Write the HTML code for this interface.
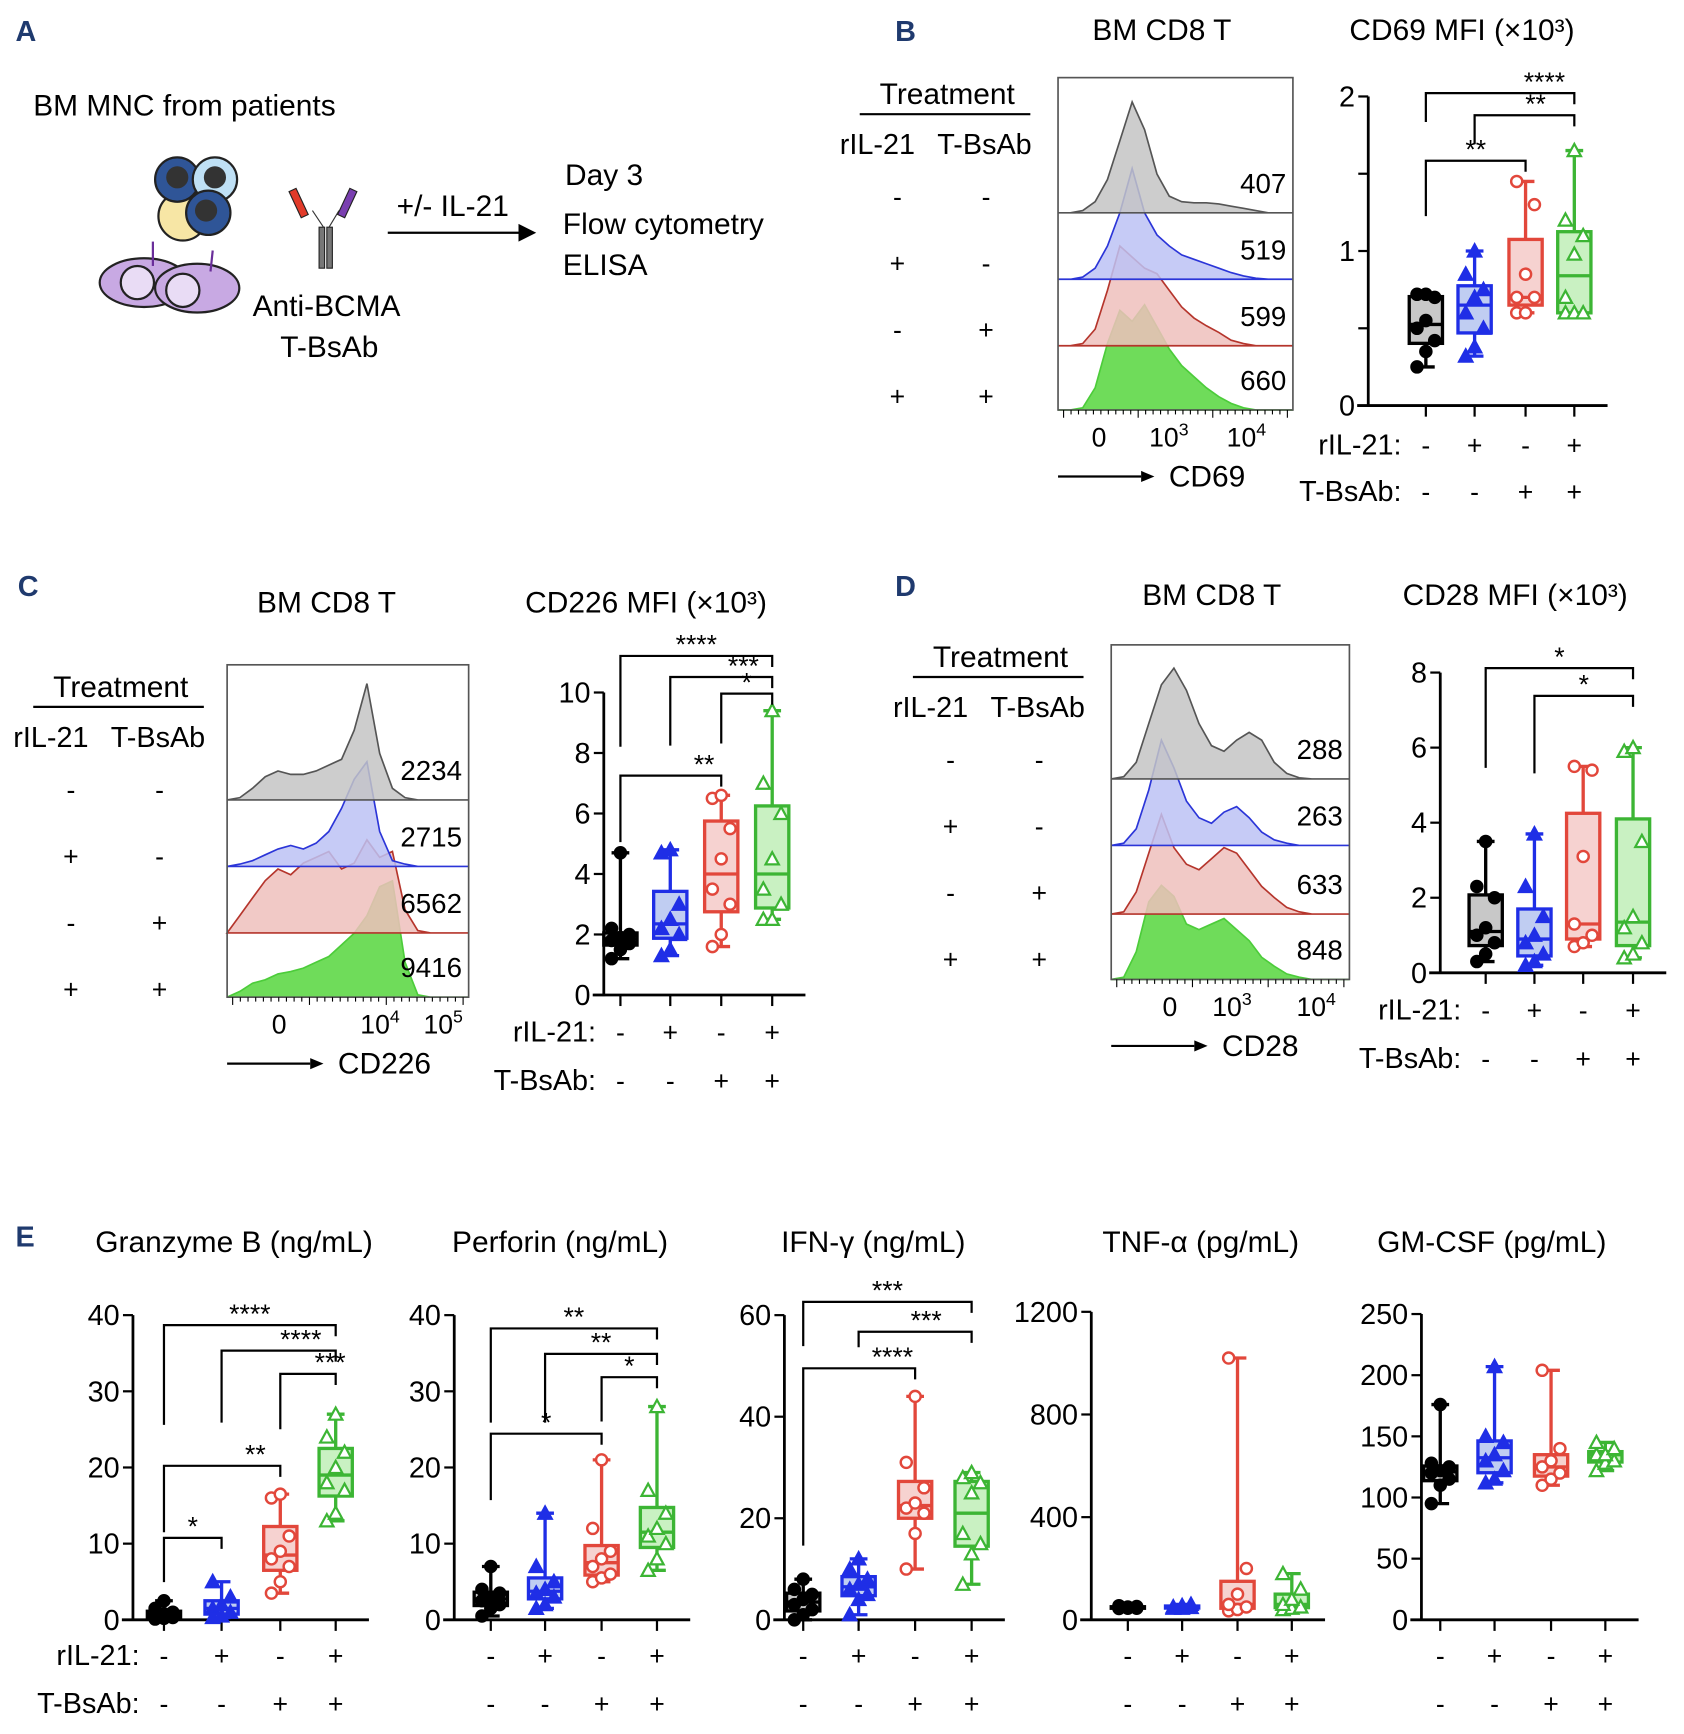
<!DOCTYPE html>
<html><head><meta charset="utf-8"><style>
html,body{margin:0;padding:0;background:#fff}
svg{display:block;font-family:"Liberation Sans",sans-serif}
</style></head><body>
<svg id="fig" width="1684" height="1734" viewBox="0 0 1520 1565" xmlns="http://www.w3.org/2000/svg">
<g>
 <text x="14" y="37" font-size="26" font-weight="bold" fill="#1f3a6e">A</text>
 <text x="30" y="104" font-size="27">BM MNC   from patients</text>
 <g>
  <ellipse cx="130" cy="255" rx="40" ry="22" fill="#c8a9e3" stroke="#222" stroke-width="2"/>
  <ellipse cx="178" cy="260" rx="38" ry="22" fill="#c8a9e3" stroke="#222" stroke-width="2"/>
  <circle cx="124" cy="255" r="15" fill="#e9dcf5" stroke="#222" stroke-width="2"/>
  <circle cx="165" cy="262" r="15" fill="#e9dcf5" stroke="#222" stroke-width="2"/>
  <line x1="138" y1="218" x2="138" y2="240" stroke="#6a2e9a" stroke-width="2"/>
  <line x1="192" y1="226" x2="190" y2="245" stroke="#6a2e9a" stroke-width="2"/>
  <circle cx="165" cy="195" r="22" fill="#f7e6a5" stroke="#222" stroke-width="2"/>
  <circle cx="160" cy="162" r="20" fill="#2f5597" stroke="#222" stroke-width="2"/>
  <circle cx="194" cy="162" r="20" fill="#bfe0f5" stroke="#222" stroke-width="2"/>
  <circle cx="188" cy="192" r="20" fill="#2f5597" stroke="#222" stroke-width="2"/>
  <circle cx="160" cy="160" r="10" fill="#333"/><circle cx="194" cy="160" r="10" fill="#333"/><circle cx="186" cy="190" r="10" fill="#333"/>
 </g>
 <g>
  <rect x="288" y="205" width="5" height="37" fill="#777" stroke="#222"/><rect x="295" y="205" width="5" height="37" fill="#777" stroke="#222"/>
  <line x1="292" y1="205" x2="282" y2="190" stroke="#333"/><line x1="297" y1="205" x2="306" y2="190" stroke="#333"/>
  <rect x="266" y="170" width="7" height="26" fill="#e23b2a" stroke="#222" transform="rotate(-25 270 183)"/>
  <rect x="310" y="170" width="7" height="26" fill="#7a3fb0" stroke="#222" transform="rotate(25 313 183)"/>
 </g>
 <text x="358" y="195" font-size="27">+/- IL-21</text>
 <line x1="350" y1="210" x2="470" y2="210" stroke="#000" stroke-width="2"/><polygon points="468,202 484,210 468,218" fill="#000"/>
 <text x="228" y="285" font-size="27">Anti-BCMA</text>
 <text x="253" y="322" font-size="27">T-BsAb</text>
 <text x="510" y="167" font-size="27">Day 3</text>
 <text x="508" y="211" font-size="27">Flow cytometry</text>
 <text x="508" y="248" font-size="27">ELISA</text>
</g>
<g id="plots"></g>
</svg>
<script>
// ===== DATA =====
const groupLabelsIL21 = ['-','+','-','+'];
const groupLabelsBsAb = ['-','-','+','+'];
// Panel B CD69 MFI (x10^3)
const cd69Black=[0.72,0.72,0.7,0.55,0.5,0.42,0.35,0.25];
const cd69Blue=[1.0,0.85,0.75,0.7,0.6,0.5,0.38,0.32];
const cd69Red=[1.45,1.3,0.85,0.7,0.7,0.6,0.6];
const cd69Green=[1.65,1.2,1.1,0.98,0.7,0.6,0.6,0.6];
const cd69Ticks=[0,0.5,1,1.5,2];
const cd69TickLabels=['0','','1','','2'];
// Panel C CD226
const cd226Black=[4.7,2.2,2,1.9,1.8,1.7,1.5,1.2];
const cd226Blue=[4.8,4.7,3,2.5,2.2,2,1.5,1.3];
const cd226Red=[6.6,6.5,5.5,4.5,3.5,3,2,1.6];
const cd226Green=[9.4,7,6,4.5,3.5,3,2.5,2.5];
const cd226Ticks=[0,2,4,6,8,10];
const cd226TickLabels=['0','2','4','6','8','10'];
// Panel D CD28
const cd28Black=[3.5,2.3,2,1.2,1,0.8,0.5,0.3];
const cd28Blue=[3.7,2.3,1.5,1,0.8,0.5,0.3,0.2];
const cd28Red=[5.5,5.4,3.1,1.3,1,0.8,0.7];
const cd28Green=[6.0,5.9,3.5,1.5,1.2,0.8,0.5,0.4];
const cd28Ticks=[0,2,4,6,8];
const cd28TickLabels=['0','2','4','6','8'];
// Panel E
const gzmBlack=[2.5,1.5,1,0.8,0.5,0.3,0.2,0.1];
const gzmBlue=[5,3,2,1.5,1,0.5,0.3];
const gzmRed=[16.5,16,11,9,8,7,5,3.5];
const gzmGreen=[27,24,22,20,18,17,14,13];
const gzmTicks=[0,10,20,30,40];
const perfBlack=[7,4,3.5,3,2.5,2,1.5,0.5];
const perfBlue=[14,7,5,4,3.5,3,2,1.5];
const perfRed=[21,12,9,8,7,6,5.5,5];
const perfGreen=[28,17,14,12,11,10,8,6.5];
const perfTicks=[0,10,20,30,40];
const ifnBlack=[8,6,5,4,3,2,1,0];
const ifnBlue=[12,10,8,7,6,5,4,1];
const ifnRed=[44,31,26,23,22,21,17,10];
const ifnGreen=[29,28,27,25,17,15,13,7];
const ifnTicks=[0,20,40,60];
const tnfBlack=[55,52,50,48,45,45,44];
const tnfBlue=[60,55,50,48,45,45];
const tnfRed=[1020,200,100,60,50,40,35];
const tnfGreen=[180,120,80,60,50,45,40];
const tnfTicks=[0,400,800,1200];
const gmBlack=[176,128,125,122,120,115,110,95];
const gmBlue=[207,150,145,135,130,122,115,112];
const gmRed=[204,140,130,125,120,115,110];
const gmGreen=[145,140,135,135,130,128,122];
const gmTicks=[0,50,100,150,200,250];
// Histograms (relative heights per bin)
const histB_gray=[0,0,0.02,0.1,0.3,0.65,1.0,0.75,0.35,0.15,0.1,0.09,0.09,0.08,0.06,0.04,0.02,0,0,0];
const histB_blue=[0,0,0.02,0.1,0.3,0.6,1.0,0.6,0.4,0.3,0.22,0.18,0.14,0.1,0.06,0.03,0.01,0,0,0];
const histB_red=[0,0,0.02,0.15,0.5,0.9,0.8,0.7,0.65,0.5,0.35,0.25,0.18,0.12,0.05,0.02,0,0,0,0];
const histB_green=[0,0,0.02,0.2,0.6,0.9,0.8,0.95,0.75,0.55,0.4,0.3,0.2,0.12,0.06,0.02,0,0,0,0];
const histB_mfi=['407','519','599','660'];
const histC_gray=[0,0.02,0.1,0.2,0.25,0.22,0.22,0.25,0.3,0.35,0.6,1.0,0.4,0.1,0.02,0,0,0,0,0];
const histC_blue=[0,0.02,0.05,0.1,0.15,0.18,0.15,0.2,0.3,0.5,0.75,0.9,0.3,0.05,0.02,0,0,0,0,0];
const histC_red=[0,0.15,0.3,0.45,0.55,0.5,0.6,0.65,0.7,0.55,0.6,0.8,0.65,0.7,0.2,0.02,0,0,0,0];
const histC_green=[0,0.05,0.12,0.15,0.2,0.22,0.25,0.3,0.35,0.45,0.55,0.7,0.95,1.0,0.3,0.02,0,0,0,0];
const histC_mfi=['2234','2715','6562','9416'];
const histD_gray=[0,0.02,0.15,0.5,0.85,1.0,0.8,0.5,0.3,0.25,0.35,0.42,0.35,0.15,0.05,0.01,0,0,0,0];
const histD_blue=[0,0.02,0.15,0.5,0.95,0.7,0.4,0.25,0.2,0.3,0.35,0.25,0.12,0.05,0.02,0,0,0,0,0];
const histD_red=[0,0.02,0.2,0.55,0.9,0.6,0.45,0.4,0.5,0.6,0.55,0.4,0.25,0.15,0.06,0.02,0,0,0,0];
const histD_green=[0,0.02,0.25,0.7,0.85,0.75,0.5,0.45,0.5,0.55,0.45,0.35,0.2,0.12,0.05,0.02,0,0,0,0];
const histD_mfi=['288','263','633','848'];

// ===== DRAWING =====
const NS='http://www.w3.org/2000/svg';
const root=document.getElementById('plots');
const COL=['#000000','#1f2ee6','#e2473b','#3cb534'];
const FILL=['#c8c8c8','#c0cdf2','#f6d2d0','#c9f1c2'];
function el(tag,attrs,parent,txt){const e=document.createElementNS(NS,tag);for(const k in attrs)e.setAttribute(k,attrs[k]);if(txt!==undefined)e.textContent=txt;(parent||root).appendChild(e);return e;}
function txt(x,y,s,size,parent,anchor,name){const t=el('text',{x:x,y:y,'font-size':size,'text-anchor':anchor||'start'},parent,s);

return t;}
function q(a,p){const s=[...a].sort((x,y)=>x-y);const i=(s.length-1)*p,lo=Math.floor(i),hi=Math.ceil(i);return s[lo]+(s[hi]-s[lo])*(i-lo);}
function marker(g,k,x,y,c){
 if(k===0||k===2){el('circle',{cx:x,cy:y,r:5,fill:k===0?c:'#fff',stroke:c,'stroke-width':2.2},g);}
 else{el('polygon',{points:`${x},${y-6} ${x-6},${y+5} ${x+6},${y+5}`,fill:k===1?c:'#fff',stroke:c,'stroke-width':2},g);}
}
function boxplot(cfg){
 const g=el('g',{});
 
 
 const yS=v=>cfg.y0-(v/cfg.max)*(cfg.y0-cfg.yTop);
 el('line',{x1:cfg.ax,y1:cfg.y0+1,x2:cfg.ax,y2:yS(cfg.max),stroke:'#000','stroke-width':2.5},g);
 el('line',{x1:cfg.ax-10,y1:cfg.y0,x2:cfg.xs[3]+30,y2:cfg.y0,stroke:'#000','stroke-width':2.5},g);
 cfg.ticks.forEach((t,i)=>{el('line',{x1:cfg.ax-9,y1:yS(t),x2:cfg.ax,y2:yS(t),stroke:'#000','stroke-width':2},g);
  const lab=cfg.tickLabels?cfg.tickLabels[i]:String(t);
  if(lab)txt(cfg.ax-12,yS(t)+9,lab,26,g,'end','y-tick-label');});
 cfg.xs.forEach((x,i)=>{el('line',{x1:x,y1:cfg.y0,x2:x,y2:cfg.y0+10,stroke:'#000','stroke-width':2},g);
  txt(x,cfg.rowY1,groupLabelsIL21[i],24,g,'middle','ril21-sign');
  txt(x,cfg.rowY2,groupLabelsBsAb[i],24,g,'middle','tbsab-sign');});
 if(cfg.rowLabels){txt(cfg.xs[0]-22,cfg.rowY1,'rIL-21:',26,g,'end','ril21-row-label');txt(cfg.xs[0]-22,cfg.rowY2,'T-BsAb:',26,g,'end','tbsab-row-label');}
 cfg.data.forEach((d,k)=>{
  const x=cfg.xs[k],w=cfg.bw/2,c=COL[k];
  const mn=Math.min(...d),mx=Math.max(...d),q1=q(d,0.25),md=q(d,0.5),q3=q(d,0.75);
  const b=el('g',{},g);
  
  
  el('line',{x1:x,y1:yS(mx),x2:x,y2:yS(mn),stroke:c,'stroke-width':3},b);
  el('line',{x1:x-8,y1:yS(mx),x2:x+8,y2:yS(mx),stroke:c,'stroke-width':3},b);
  el('line',{x1:x-8,y1:yS(mn),x2:x+8,y2:yS(mn),stroke:c,'stroke-width':3},b);
  el('rect',{x:x-w,y:yS(q3),width:2*w,height:Math.max(1,yS(q1)-yS(q3)),fill:FILL[k],stroke:c,'stroke-width':3},b);
  el('line',{x1:x-w,y1:yS(md),x2:x+w,y2:yS(md),stroke:c,'stroke-width':3},b);
  const sorted=[...d].sort((a,b2)=>a-b2);
  sorted.forEach((v,i)=>{const off=((i%3)-1)*8*(d.length>4?1:0);marker(b,k,x+off,yS(v),c);});
 });
 (cfg.brackets||[]).forEach(br=>{
  const x1=cfg.xs[br[0]],x2=cfg.xs[br[1]],y=br[2];
  el('path',{d:`M${x1},${y+br[3]} L${x1},${y} L${x2},${y} L${x2},${y+10}`,fill:'none',stroke:'#000','stroke-width':2},g);
  if(br[4])txt((x1+x2)/2+(br[5]||0),y-2,br[4],24,g,'middle','significance-stars');
 });
 root.appendChild(g);
}
function histo(cfg){
 const g=el('g',{});
 
 
 const w=cfg.x1-cfg.x0;
 const strokes=['#555','#2b35d8','#b5352c','#4ccc3a'];
 const fills=['#c4c4c4','#bcc2f4','#efc0bc','#6fdc5a'];
 for(let r=3;r>=0;r--){
  const arr=cfg.series[r],base=cfg.bases[r],n=arr.length,step=w/(n-1);
  let d=`M${cfg.x0},${base}`;
  arr.forEach((v,i)=>{d+=` L${(cfg.x0+i*step).toFixed(1)},${(base-v*cfg.H).toFixed(1)}`;});
  d+=` L${cfg.x1},${base} Z`;
  const p=el('path',{d:d,fill:fills[r],'fill-opacity':r===3?1:0.85,stroke:strokes[r],'stroke-width':1.5},g);
  
  
  txt(cfg.x1-6,base-18,cfg.mfi[r],25,g,'end','mfi-value');
 }
 el('rect',{x:cfg.x0,y:cfg.yTop,width:w,height:cfg.bases[3]-cfg.yTop,fill:'none',stroke:'#555','stroke-width':1.5},g);
 for(let i=0;i<=30;i++){const x=cfg.x0+5+i*(w-10)/30;el('line',{x1:x,y1:cfg.bases[3],x2:x,y2:cfg.bases[3]+(i%10===0?7:4),stroke:'#000','stroke-width':1},g);}
 cfg.xt.forEach((t,i)=>{const tt=txt(cfg.xtx[i],cfg.bases[3]+33,'',24,g,'middle','x-tick-label');
  if(t==='0')tt.textContent='0';else{tt.textContent='10';const s=document.createElementNS(NS,'tspan');s.setAttribute('dy','-10');s.setAttribute('font-size','16');s.textContent=t;tt.appendChild(s);}});
 el('line',{x1:cfg.x0,y1:cfg.bases[3]+60,x2:cfg.x0+75,y2:cfg.bases[3]+60,stroke:'#000','stroke-width':2},g);
 el('polygon',{points:`${cfg.x0+75},${cfg.bases[3]+55} ${cfg.x0+87},${cfg.bases[3]+60} ${cfg.x0+75},${cfg.bases[3]+65}`,fill:'#000'},g);
 txt(cfg.x0+100,cfg.bases[3]+69,cfg.marker,27,g,'start','x-axis-title');
 root.appendChild(g);
}
function treat(x,yTop,rows,name){
 const g=el('g',{});
 
 
 txt(x+97,yTop,'Treatment',27,g,'middle','treatment-header');
 el('line',{x1:x+18,y1:yTop+9,x2:x+172,y2:yTop+9,stroke:'#000','stroke-width':2},g);
 txt(x,yTop+45,'rIL-21',26,g,'start','ril21-col');txt(x+88,yTop+45,'T-BsAb',26,g,'start','tbsab-col');
 rows.forEach((r,i)=>{txt(x+52,yTop+92+i*60,groupLabelsIL21[i],24,g,'middle','treat-sign');txt(x+132,yTop+92+i*60,groupLabelsBsAb[i],24,g,'middle','treat-sign');});
 root.appendChild(g);
}
function title(x,y,s,name,anchor){const t=txt(x,y,s,27,root,anchor||'start',name);return t;}
function panelLetter(x,y,s){const t=txt(x,y,s,26,root,'start','panel-letter-'+s.toLowerCase());t.setAttribute('font-weight','bold');t.setAttribute('fill','#1f3a6e');}

// Panel B
panelLetter(808,37,'B');
title(986,36,'BM CD8 T','title-b-hist');
title(1218,36,'CD69 MFI (×10³)','title-b-box');
treat(758,94,[0,1,2,3],'treatment-table-b');
histo({name:'histogram-b',x0:955,x1:1167,yTop:70,bases:[192,252,312,370],H:100,series:[histB_gray,histB_blue,histB_red,histB_green],mfi:histB_mfi,xt:['0','3','4'],xtx:[992,1055,1125],marker:'CD69'});
boxplot({name:'boxplot-cd69',ax:1235,y0:366,yTop:87,max:2,ticks:cd69Ticks,tickLabels:cd69TickLabels,xs:[1287,1331,1377,1421],bw:30,data:[cd69Black,cd69Blue,cd69Red,cd69Green],rowY1:410,rowY2:452,rowLabels:true,
 brackets:[[0,3,84,26,'****',40],[1,3,104,26,'**',10],[0,2,145,50,'**',0]]});
// Panel C
panelLetter(16,538,'C');
title(232,553,'BM CD8 T','title-c-hist');
title(474,553,'CD226 MFI (×10³)','title-c-box');
treat(12,629,[0,1,2,3],'treatment-table-c');
histo({name:'histogram-c',x0:205,x1:423,yTop:600,bases:[722,782,842,900],H:105,series:[histC_gray,histC_blue,histC_red,histC_green],mfi:histC_mfi,xt:['0','4','5'],xtx:[252,343,400],marker:'CD226'});
boxplot({name:'boxplot-cd226',ax:545,y0:898,yTop:625,max:10,ticks:cd226Ticks,xs:[560,605,651,697],bw:30,data:[cd226Black,cd226Blue,cd226Red,cd226Green],rowY1:940,rowY2:984,rowLabels:true,
 brackets:[[0,3,592,82,'****',0],[1,3,611,62,'***',20],[2,3,626,45,'*',0],[0,2,700,60,'**',30]]});
// Panel D
panelLetter(808,538,'D');
title(1031,546,'BM CD8 T','title-d-hist');
title(1266,546,'CD28 MFI (×10³)','title-d-box');
treat(806,602,[0,1,2,3],'treatment-table-d');
histo({name:'histogram-d',x0:1003,x1:1218,yTop:582,bases:[703,763,825,884],H:100,series:[histD_gray,histD_blue,histD_red,histD_green],mfi:histD_mfi,xt:['0','3','4'],xtx:[1056,1112,1188],marker:'CD28'});
boxplot({name:'boxplot-cd28',ax:1300,y0:878,yTop:607,max:8,ticks:cd28Ticks,xs:[1341,1385,1429,1474],bw:30,data:[cd28Black,cd28Blue,cd28Red,cd28Green],rowY1:920,rowY2:964,rowLabels:true,
 brackets:[[0,3,603,90,'*',0],[1,3,628,70,'*',0]]});
// Panel E
panelLetter(14,1125,'E');
title(86,1130,'Granzyme B (ng/mL)','title-granzyme-b');
title(408,1130,'Perforin (ng/mL)','title-perforin');
title(705,1130,'IFN-γ (ng/mL)','title-ifn-gamma');
title(995,1130,'TNF-α (pg/mL)','title-tnf-alpha');
title(1243,1130,'GM-CSF (pg/mL)','title-gm-csf');
boxplot({name:'boxplot-granzyme-b',ax:120,y0:1462,yTop:1187,max:40,ticks:gzmTicks,xs:[148,200,253,303],bw:30,data:[gzmBlack,gzmBlue,gzmRed,gzmGreen],rowY1:1503,rowY2:1546,rowLabels:true,
 brackets:[[0,3,1196,90,'****',0],[1,3,1219,65,'****',20],[2,3,1240,50,'***',20],[0,2,1323,60,'**',30],[0,1,1388,40,'*',0]]});
boxplot({name:'boxplot-perforin',ax:410,y0:1462,yTop:1187,max:40,ticks:perfTicks,xs:[443,492,543,593],bw:30,data:[perfBlack,perfBlue,perfRed,perfGreen],rowY1:1503,rowY2:1546,
 brackets:[[0,3,1199,85,'**',0],[1,3,1222,62,'**',0],[2,3,1243,40,'*',0],[0,2,1294,60,'*',0]]});
boxplot({name:'boxplot-ifn-gamma',ax:708,y0:1462,yTop:1187,max:60,ticks:ifnTicks,xs:[725,775,826,877],bw:30,data:[ifnBlack,ifnBlue,ifnRed,ifnGreen],rowY1:1503,rowY2:1546,
 brackets:[[0,3,1175,40,'***',0],[1,3,1202,14,'***',10],[0,2,1235,160,'****',30]]});
boxplot({name:'boxplot-tnf-alpha',ax:985,y0:1462,yTop:1184,max:1200,ticks:tnfTicks,xs:[1018,1067,1117,1166],bw:30,data:[tnfBlack,tnfBlue,tnfRed,tnfGreen],rowY1:1503,rowY2:1546});
boxplot({name:'boxplot-gm-csf',ax:1283,y0:1462,yTop:1186,max:250,ticks:gmTicks,xs:[1300,1349,1400,1449],bw:30,data:[gmBlack,gmBlue,gmRed,gmGreen],rowY1:1503,rowY2:1546});
</script>
</body></html>
